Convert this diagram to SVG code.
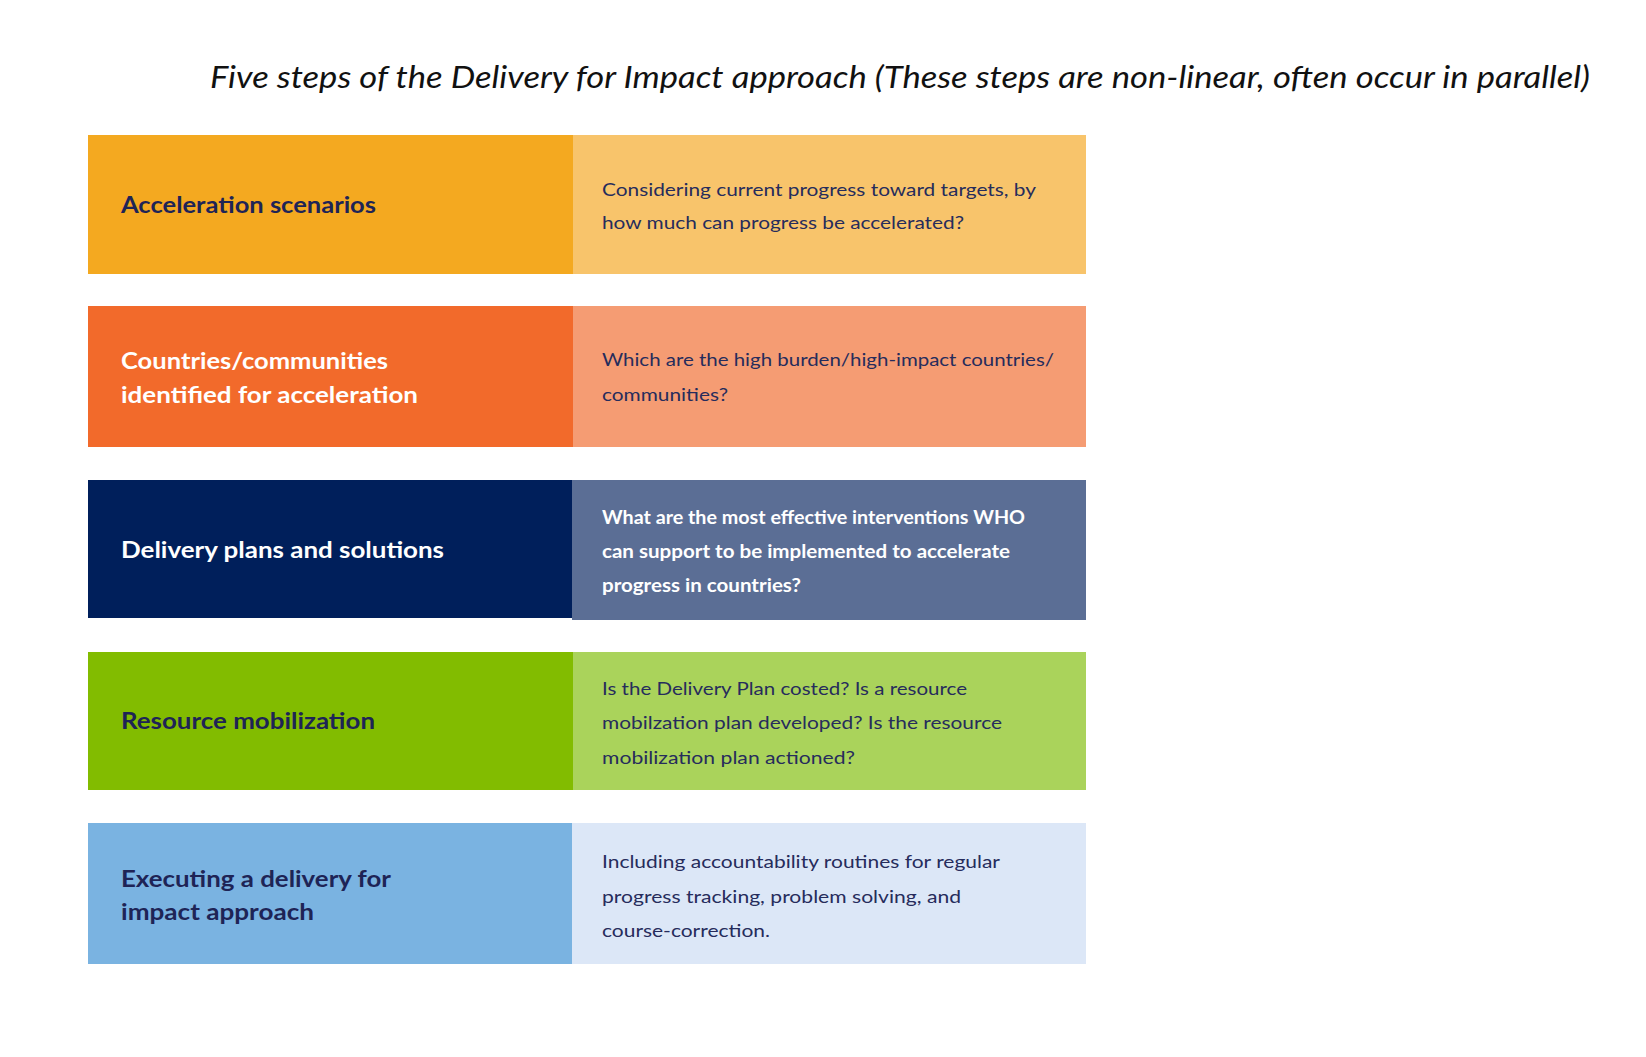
<svg xmlns="http://www.w3.org/2000/svg" width="1646" height="1057" viewBox="0 0 1646 1057">
<style>
  .title { font-family: Lato, "Open Sans", "Liberation Sans", sans-serif; font-style: italic; font-size: 30px; fill: #111111; }
  .lbl { font-family: Lato, "Noto Sans", "Liberation Sans", sans-serif; font-weight: bold; font-size: 23px; }
  .dsc { font-family: Lato, "Noto Sans", "Liberation Sans", sans-serif; font-size: 18px; }
  .navy { fill: #1E2456; }
  .white { fill: #FFFFFF; }
  .dnavy { fill: #262C5C; }
</style>
<rect width="1646" height="1057" fill="#FFFFFF"/>
<text class="title" x="210" y="88" textLength="1380" lengthAdjust="spacingAndGlyphs">Five steps of the Delivery for Impact approach (These steps are non-linear, often occur in parallel)</text>

<g id="step1">
  <rect x="88" y="135" width="485" height="139" fill="#F4A920"/>
  <rect x="573" y="135" width="513" height="139" fill="#F8C46B"/>
  <text class="lbl navy" x="121" y="213" textLength="255" lengthAdjust="spacingAndGlyphs">Acceleration scenarios</text>
  <text class="dsc dnavy" x="602" y="196" textLength="434" lengthAdjust="spacingAndGlyphs">Considering current progress toward targets, by</text>
  <text class="dsc dnavy" x="602" y="229" textLength="362" lengthAdjust="spacingAndGlyphs">how much can progress be accelerated?</text>
</g>

<g id="step2">
  <rect x="88" y="306" width="485" height="141" fill="#F26A2B"/>
  <rect x="573" y="306" width="513" height="141" fill="#F59C73"/>
  <text class="lbl white" x="121" y="369" textLength="267" lengthAdjust="spacingAndGlyphs">Countries/communities</text>
  <text class="lbl white" x="121" y="403" textLength="297" lengthAdjust="spacingAndGlyphs">identified for acceleration</text>
  <text class="dsc dnavy" x="602" y="366" textLength="452" lengthAdjust="spacingAndGlyphs">Which are the high burden/high-impact countries/</text>
  <text class="dsc dnavy" x="602" y="401" textLength="126" lengthAdjust="spacingAndGlyphs">communities?</text>
</g>

<g id="step3">
  <rect x="88" y="480" width="485" height="138" fill="#001F5B"/>
  <rect x="572" y="480" width="514" height="140" fill="#5B6E95"/>
  <text class="lbl white" x="121" y="558" textLength="323" lengthAdjust="spacingAndGlyphs">Delivery plans and solutions</text>
  <text class="dsc white" font-weight="bold" x="602" y="524" textLength="423" lengthAdjust="spacingAndGlyphs">What are the most effective interventions WHO</text>
  <text class="dsc white" font-weight="bold" x="602" y="558" textLength="408" lengthAdjust="spacingAndGlyphs">can support to be implemented to accelerate</text>
  <text class="dsc white" font-weight="bold" x="602" y="592" textLength="199" lengthAdjust="spacingAndGlyphs">progress in countries?</text>
</g>

<g id="step4">
  <rect x="88" y="652" width="485" height="138" fill="#82BC00"/>
  <rect x="573" y="652" width="513" height="138" fill="#AAD35B"/>
  <text class="lbl navy" x="121" y="729" textLength="254" lengthAdjust="spacingAndGlyphs">Resource mobilization</text>
  <text class="dsc dnavy" x="602" y="695" textLength="365" lengthAdjust="spacingAndGlyphs">Is the Delivery Plan costed? Is a resource</text>
  <text class="dsc dnavy" x="602" y="729" textLength="400" lengthAdjust="spacingAndGlyphs">mobilzation plan developed? Is the resource</text>
  <text class="dsc dnavy" x="602" y="764" textLength="253" lengthAdjust="spacingAndGlyphs">mobilization plan actioned?</text>
</g>

<g id="step5">
  <rect x="88" y="823" width="484" height="141" fill="#7AB3E1"/>
  <rect x="572" y="823" width="514" height="141" fill="#DCE7F7"/>
  <text class="lbl navy" x="121" y="887" textLength="270" lengthAdjust="spacingAndGlyphs">Executing a delivery for</text>
  <text class="lbl navy" x="121" y="920" textLength="193" lengthAdjust="spacingAndGlyphs">impact approach</text>
  <text class="dsc dnavy" x="602" y="868" textLength="398" lengthAdjust="spacingAndGlyphs">Including accountability routines for regular</text>
  <text class="dsc dnavy" x="602" y="903" textLength="359" lengthAdjust="spacingAndGlyphs">progress tracking, problem solving, and</text>
  <text class="dsc dnavy" x="602" y="937" textLength="168" lengthAdjust="spacingAndGlyphs">course-correction.</text>
</g>

<g id="connectors"/>
</svg>
